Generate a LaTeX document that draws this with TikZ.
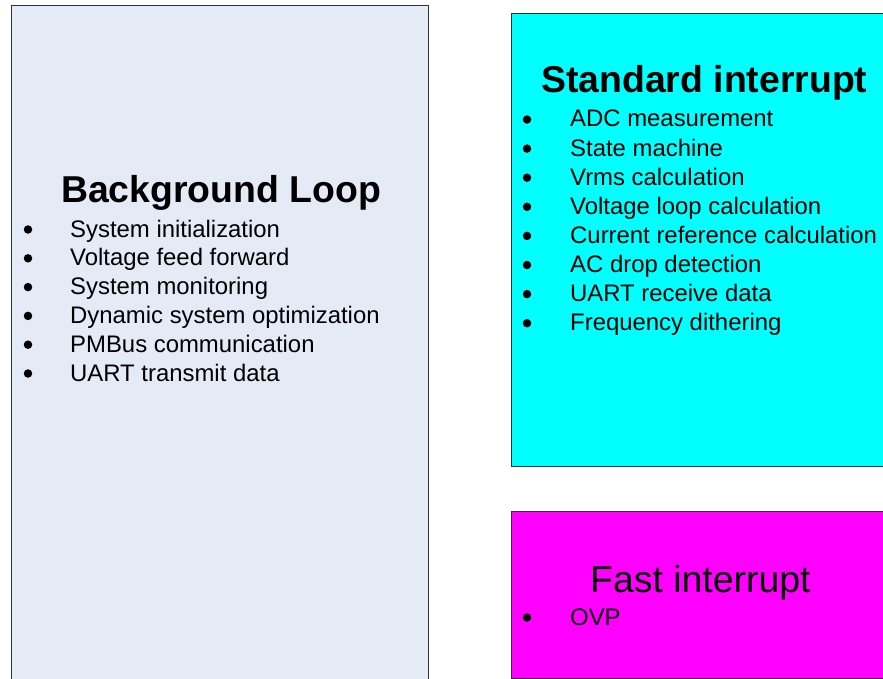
\documentclass[tikz,border=0pt]{standalone}
\usepackage{fontspec}
\setmainfont{Liberation Sans}
\definecolor{loopblue}{HTML}{E4EBF6}
\definecolor{stdcyan}{HTML}{00FFFF}
\definecolor{fastpink}{HTML}{FF00FF}
\tikzset{
  task/.style={draw=black!80, line width=0.8pt, anchor=north west, inner sep=0pt},
  title/.style={anchor=base west, inner sep=0pt, font=\fontsize{37.4}{44}\selectfont\bfseries},
  item/.style={anchor=base west, inner sep=0pt, font=\fontsize{23.9}{28}\selectfont},
  dot/.style={circle, fill=black, inner sep=0pt, minimum size=8.5pt}
}
\begin{document}
\begin{tikzpicture}[x=1pt,y=-1pt]
\useasboundingbox (0,0) rectangle (883,679);
% boxes
\node (bg) [task, fill=loopblue, minimum width=417pt, minimum height=700pt] at (11,5) {};
\node (std) [task, fill=stdcyan, minimum width=400pt, minimum height=453pt] at (511,13) {};
\node (fast) [task, fill=fastpink, minimum width=400pt, minimum height=167pt] at (511,511) {};
% titles
\node (bgtitle) [title] at (61,203) {Background Loop};
\node (stdtitle) [title] at (541,93) {Standard interrupt};
\node (fasttitle) [title, font=\fontsize{37.4}{44}\selectfont] at (590,592) {Fast interrupt};
% lists
\foreach \txt [count=\i from 0] in {System initialization, Voltage feed forward, System monitoring, Dynamic system optimization, PMBus communication, UART transmit data} {
  \node (bgdot\i) [dot] at (28,{237+28.8*\i-7.5}) {};
  \node (bgitem\i) [item] at (70,{237+28.8*\i}) {\txt};
}
\foreach \txt [count=\i from 0] in {ADC measurement, State machine, Vrms calculation, Voltage loop calculation, Current reference calculation, AC drop detection, UART receive data, Frequency dithering} {
  \node (stddot\i) [dot] at (527,{127+29.1*\i-7.5}) {};
  \node (stditem\i) [item] at (570,{127+29.1*\i}) {\txt};
}
\node (fastdot) [dot] at (527,617.5) {};
\node (fastitem) [item] at (570,625) {OVP};
\end{tikzpicture}
\end{document}
